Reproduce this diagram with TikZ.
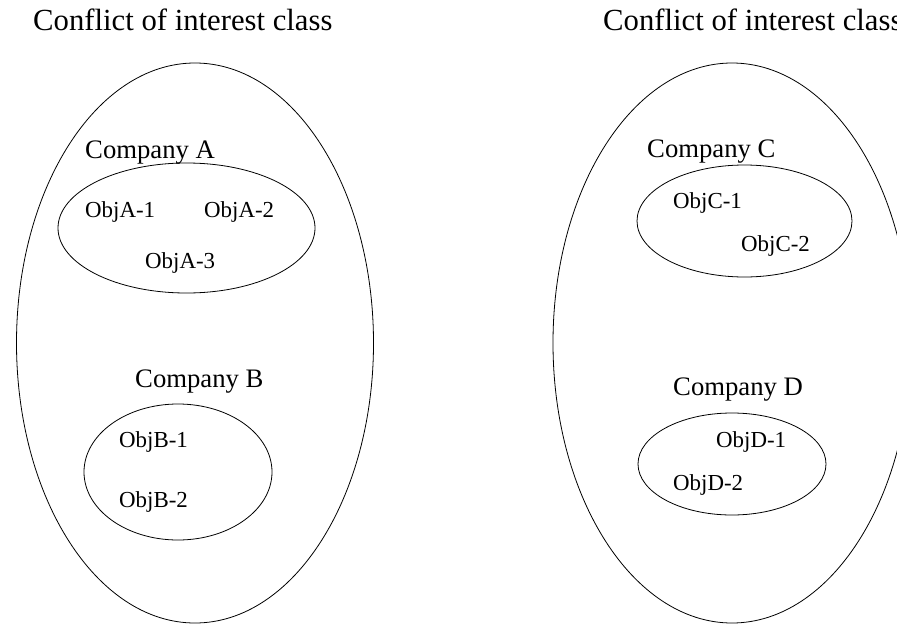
\documentclass[tikz,border=0pt]{standalone}
\usepackage{fontspec}
\setmainfont{Liberation Serif}
\usetikzlibrary{shapes.geometric}
\begin{document}
\begin{tikzpicture}[x=1pt,y=-1pt,
  region/.style={draw, ellipse, line width=0.8pt, inner sep=0pt, outer sep=0pt},
  classtitle/.style={anchor=base west, inner sep=0pt, font=\fontsize{30.7}{36}\selectfont},
  company/.style={anchor=base west, inner sep=0pt, font=\fontsize{26.7}{32}\selectfont},
  obj/.style={anchor=base west, inner sep=0pt, font=\fontsize{22.9}{27}\selectfont}]
\useasboundingbox (0,0) rectangle (897,624);
\clip (0,0) rectangle (897,624);

% conflict of interest classes
\node[region, minimum width=357pt, minimum height=560pt] (classL) at (195,343) {};
\node[region, minimum width=358pt, minimum height=560pt] (classR) at (732,343) {};
\node[classtitle] (titleL) at (33,30) {Conflict of interest class};
\node[classtitle] (titleR) at (603,30) {Conflict of interest class};

% companies
\node[region, minimum width=257pt, minimum height=130pt] (compA) at (186.5,228) {};
\node[region, minimum width=188pt, minimum height=136pt] (compB) at (178,472) {};
\node[region, minimum width=215pt, minimum height=112pt] (compC) at (744.5,221) {};
\node[region, minimum width=188pt, minimum height=102pt] (compD) at (732,464) {};

\node[company] (labA) at (85,158) {Company A};
\node[company] (labB) at (135,387) {Company B};
\node[company] (labC) at (647,157) {Company C};
\node[company] (labD) at (673,395) {Company D};

% objects
\node[obj] (a1) at (85,217) {ObjA-1};
\node[obj] (a2) at (204,217) {ObjA-2};
\node[obj] (a3) at (145,268) {ObjA-3};
\node[obj] (b1) at (119,447) {ObjB-1};
\node[obj] (b2) at (119,507) {ObjB-2};
\node[obj] (c1) at (673,208) {ObjC-1};
\node[obj] (c2) at (741,251) {ObjC-2};
\node[obj] (d1) at (716,447) {ObjD-1};
\node[obj] (d2) at (673,490) {ObjD-2};
\end{tikzpicture}
\end{document}
